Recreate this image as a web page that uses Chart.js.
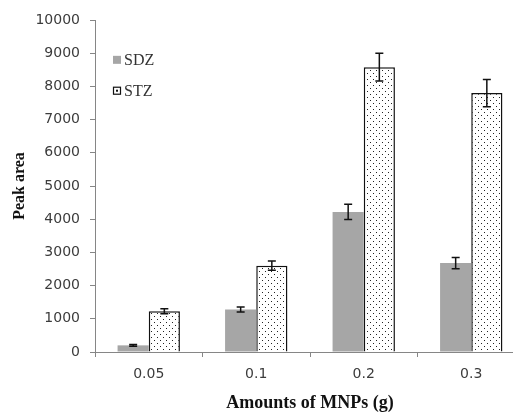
<!DOCTYPE html>
<html>
<head>
<meta charset="utf-8">
<script src="https://cdn.jsdelivr.net/npm/chart.js@4"></script>
<style>
  body { margin: 0; background: #fff; overflow: hidden; }
  #wrap { width: 525px; height: 414px; position: relative; }
</style>
</head>
<body>
<div id="wrap"><canvas id="peakChart"></canvas></div>
<script>
// ====== Data ======
const amounts = ["0.05", "0.1", "0.2", "0.3"];
const sdzArea = [200, 1280, 4220, 2680];
const sdzErr = [25, 75, 230, 170];
const stzArea = [1230, 2600, 8580, 7800];
const stzErr = [75, 140, 420, 410];
const yTicks = [0, 1000, 2000, 3000, 4000, 5000, 6000, 7000, 8000, 9000, 10000];

// ====== Dotted fill for STZ ======
function makeDots() {
  const c = document.createElement("canvas");
  c.width = 6;
  c.height = 6;
  const g = c.getContext("2d");
  g.fillStyle = "#fff";
  g.fillRect(0, 0, 6, 6);
  g.fillStyle = "#222";
  g.fillRect(1, 1, 1, 1);
  g.fillRect(4, 4, 1, 1);
  return g.createPattern(c, "repeat");
}
const dots = makeDots();

// ====== Error bars ======
const errorBars = {
  id: "errorBars",
  afterDatasetsDraw(chart) {
    const ctx = chart.ctx;
    const y = chart.scales.y;
    const errs = [sdzErr, stzErr];
    ctx.save();
    ctx.strokeStyle = "#111";
    ctx.lineWidth = 1.5;
    chart.data.datasets.forEach((ds, i) => {
      chart.getDatasetMeta(i).data.forEach((bar, j) => {
        const v = ds.data[j];
        const top = y.getPixelForValue(v + errs[i][j]);
        const bot = y.getPixelForValue(v - errs[i][j]);
        ctx.beginPath();
        ctx.moveTo(bar.x, top);
        ctx.lineTo(bar.x, bot);
        ctx.moveTo(bar.x - 4, top);
        ctx.lineTo(bar.x + 4, top);
        ctx.moveTo(bar.x - 4, bot);
        ctx.lineTo(bar.x + 4, bot);
        ctx.stroke();
      });
    });
    ctx.restore();
  }
};

// ====== Legend inside plot ======
const innerLegend = {
  id: "innerLegend",
  afterDraw(chart) {
    const ctx = chart.ctx;
    const x0 = chart.chartArea.left + 18;
    const y = chart.scales.y;
    const rows = [
      { label: "SDZ", yv: 8800, fill: "#a6a6a6", border: null },
      { label: "STZ", yv: 7870, fill: dots, border: "#111" }
    ];
    ctx.save();
    ctx.font = "16px 'Liberation Serif'";
    ctx.textBaseline = "middle";
    rows.forEach(r => {
      const cy = y.getPixelForValue(r.yv);
      ctx.fillStyle = r.fill;
      ctx.fillRect(x0, cy - 4, 8, 8);
      if (r.border) {
        ctx.fillStyle = "#fff";
        ctx.fillRect(x0, cy - 4, 8, 8);
        ctx.strokeStyle = r.border;
        ctx.lineWidth = 1.2;
        ctx.strokeRect(x0 + 0.5, cy - 3.5, 7, 7);
        ctx.fillStyle = "#111";
        ctx.fillRect(x0 + 3, cy - 1, 2, 2);
      }
      ctx.fillStyle = "#333";
      ctx.fillText(r.label, x0 + 11, cy + 1);
    });
    ctx.restore();
  }
};

// ====== Chart ======
new Chart(document.getElementById("peakChart"), {
  type: "bar",
  data: {
    labels: amounts,
    datasets: [
      {
        label: "SDZ",
        data: sdzArea,
        backgroundColor: "#a6a6a6",
        borderWidth: 0
      },
      {
        label: "STZ",
        data: stzArea,
        backgroundColor: dots,
        borderColor: "#111",
        borderWidth: 1.5
      }
    ]
  },
  options: {
    responsive: true,
    maintainAspectRatio: false,
    animation: false,
    layout: { padding: { top: 20, left: 0, right: 0, bottom: 0 } },
    datasets: {
      bar: { categoryPercentage: 0.58, barPercentage: 1.0 }
    },
    plugins: {
      legend: { display: false },
      tooltip: { enabled: false }
    },
    scales: {
      x: {
        grid: { drawOnChartArea: false, offset: true, tickLength: 5, color: "#868686" },
        border: { color: "#868686", width: 1 },
        ticks: { color: "#3c3c3c", font: { family: "DejaVu Sans", size: 14 }, padding: 9 },
        title: {
          display: true,
          text: "Amounts of MNPs (g)",
          color: "#111",
          font: { family: "Liberation Serif", size: 18, weight: "bold" },
          padding: { top: 2, bottom: 0 }
        },
        afterFit(scale) { scale.height = 62; }
      },
      y: {
        min: 0,
        max: 10000,
        afterBuildTicks(scale) { scale.ticks = yTicks.map(v => ({ value: v })); },
        grid: { drawOnChartArea: false, tickLength: 5, color: "#868686" },
        border: { color: "#868686", width: 1 },
        ticks: {
          color: "#3c3c3c",
          font: { family: "DejaVu Sans", size: 14 },
          padding: 10,
          callback: v => String(v)
        },
        title: {
          display: true,
          text: "Peak area",
          color: "#111",
          font: { family: "Liberation Serif", size: 16, weight: "bold" },
          padding: { top: 10, bottom: 0 }
        },
        afterFit(scale) { scale.width = 95; }
      }
    }
  },
  plugins: [errorBars, innerLegend]
});
</script>
</body>
</html>
